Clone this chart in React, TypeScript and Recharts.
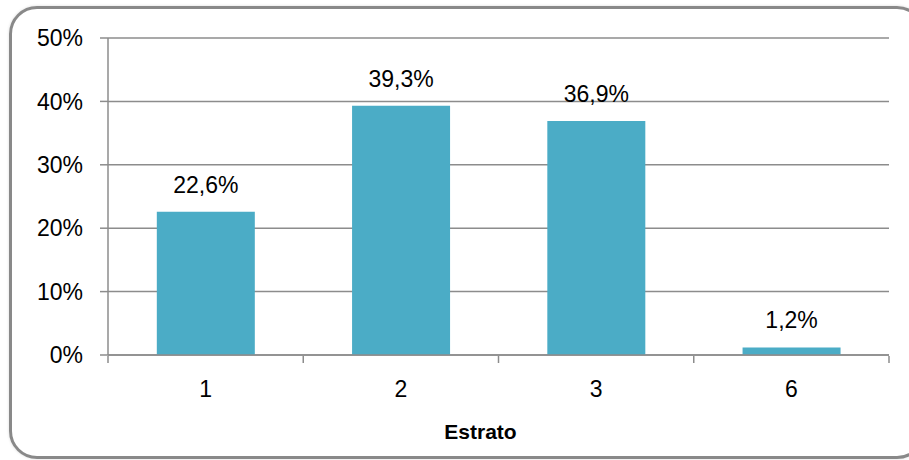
import { BarChart, Bar, XAxis, YAxis, CartesianGrid, LabelList, Label } from "recharts";

const strata = ["1", "2", "3", "6"];
const shares = [22.6, 39.3, 36.9, 1.2];
const yTicks = [0, 10, 20, 30, 40, 50];
const boundaryTicks = [0, 1, 2, 3, 4];

const data = strata.map((s, i) => ({ name: s, value: shares[i] }));

const font = "'Liberation Sans', Arial, sans-serif";
const axisGray = "#8c8c8c";

function pct(v: number) {
  return v.toFixed(1).replace(".", ",") + "%";
}

// empty tick: only the tick lines of the boundary axis are wanted
const NoText = () => <g />;

export default function App() {
  return (
    <div style={{ position: "absolute", left: 0, top: 0, width: 909, height: 460, overflow: "hidden", background: "#fff" }}>
      <div
        style={{
          position: "absolute",
          left: 9,
          top: 6,
          width: 910,
          height: 447,
          border: "3px solid #898989",
          borderRadius: 28,
          boxShadow: "0 0 3px rgba(0,0,0,0.15)",
        }}
      />
      <div style={{ position: "absolute", left: 0, top: 0 }}>
        <BarChart
          width={909}
          height={460}
          data={data}
          margin={{ top: 38, right: 20, bottom: 0, left: 0 }}
          barCategoryGap="25%"
          style={{ fontFamily: font }}
        >
          <CartesianGrid vertical={false} stroke={axisGray} strokeWidth={1.5} />
          <XAxis
            dataKey="name"
            height={1}
            tickLine={false}
            tickSize={7}
            tickMargin={19}
            axisLine={{ stroke: axisGray, strokeWidth: 1.5 }}
            tick={{ fill: "#000", fontSize: 23, fontFamily: font }}
          />
          <XAxis
            xAxisId="b"
            type="number"
            dataKey="idx"
            domain={[0, 4]}
            ticks={boundaryTicks}
            interval={0}
            allowDataOverflow
            height={104}
            tick={NoText}
            axisLine={false}
            tickSize={7}
            tickLine={{ stroke: axisGray, strokeWidth: 1.5 }}
          >
            <Label
              value="Estrato"
              position="insideBottom"
              offset={21}
              dx={-18}
              fill="#000"
              fontSize={21}
              fontWeight="bold"
              fontFamily={font}
            />
          </XAxis>
          <YAxis
            width={108}
            domain={[0, 50]}
            ticks={yTicks}
            tickFormatter={(v) => `${v}%`}
            tickSize={8}
            tickMargin={17}
            axisLine={{ stroke: axisGray, strokeWidth: 1.5 }}
            tickLine={{ stroke: axisGray, strokeWidth: 1.5 }}
            tick={{ fill: "#000", fontSize: 23, fontFamily: font }}
          />
          <Bar dataKey="value" fill="#4bacc6" isAnimationActive={false}>
            <LabelList
              dataKey="value"
              position="top"
              offset={19}
              formatter={(v: number) => pct(v)}
              style={{ fill: "#000", fontSize: 23, fontFamily: font }}
            />
          </Bar>
        </BarChart>
      </div>
    </div>
  );
}
